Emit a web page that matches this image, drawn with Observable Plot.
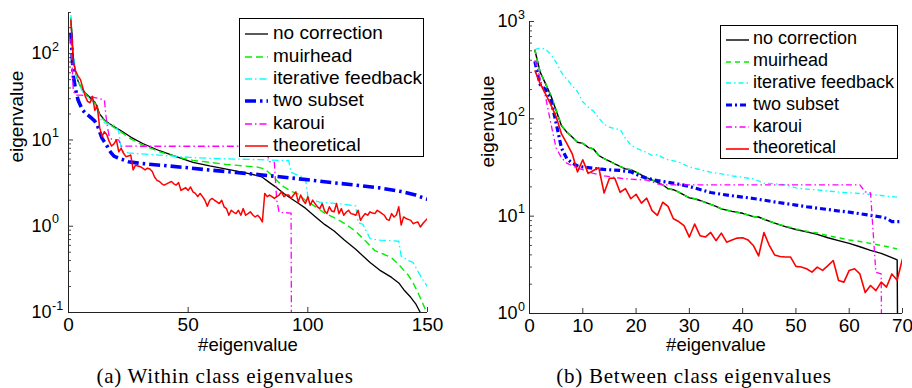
<!DOCTYPE html>
<html><head><meta charset="utf-8">
<script src="https://cdn.jsdelivr.net/npm/d3@7"></script>
<script src="https://cdn.jsdelivr.net/npm/@observablehq/plot@0.6"></script>
<style>
html,body{margin:0;padding:0;background:#fff;}
#root{position:relative;width:912px;height:388px;overflow:hidden;font-family:"Liberation Sans",Arial,sans-serif;color:#000;}
.panel{position:absolute;top:0;}
.legend{position:absolute;border:1.2px solid #000;background:#fff;box-sizing:border-box;}
.row{display:flex;align-items:center;white-space:nowrap;}
.row svg{display:block;flex:none;}
.caption{position:absolute;font-family:"Liberation Serif","Times New Roman",serif;font-size:21px;letter-spacing:0.75px;line-height:21px;white-space:nowrap;transform:translateX(-50%);}
</style></head><body><div id="root"></div>
<script>
// ---------- labels / ticks ----------
const legendLabels = ["no correction", "muirhead", "iterative feedback", "two subset", "karoui", "theoretical"];
const captionWithin = "(a) Within class eigenvalues";
const captionBetween = "(b) Between class eigenvalues";
const xLabelText = "#eigenvalue";
const yLabelText = "eigenvalue";
const xTicksWithin = [0, 50, 100, 150];
const xTicksBetween = [0, 10, 20, 30, 40, 50, 60, 70];
const yMajorWithin = [0.1, 1, 10, 100];
const yExpWithin = ["-1", "0", "1", "2"];
const yMinorWithin = [0.2,0.3,0.4,0.5,0.6,0.7,0.8,0.9,2,3,4,5,6,7,8,9,20,30,40,50,60,70,80,90,200,300];
const yMajorBetween = [1, 10, 100, 1000];
const yExpBetween = ["0", "1", "2", "3"];
const yMinorBetween = [2,3,4,5,6,7,8,9,20,30,40,50,60,70,80,90,200,300,400,500,600,700,800,900];

// ---------- (a) within class: [index, value] ----------
const wNoCorrection = [[1,255],[2,85],[3,60],[4,48],[5,42],[6,38],[7,35],[8,33],[9,31],[10,29],[11,27.5],[12,24],[13,20],[14,18.5],[15,17],[17,15.5],[19,14.3],[22,12.8],[26,10.8],[31,9.1],[38,7.5],[45,6.4],[52,5.5],[59,5.0],[66,4.6],[73,4.2],[79,3.86],[81,3.7],[84,3.2],[87,2.8],[90,2.4],[93,2.1],[96,1.85],[99,1.62],[103,1.3],[107,1.05],[111,0.88],[115,0.7],[120,0.54],[126,0.38],[130,0.31],[135,0.255],[138,0.22],[140,0.185],[143,0.15],[145,0.127],[147,0.1],[148,0.085]];
const wMuirhead = [[1,265],[2,88],[3,61],[4,48],[5,42],[6,37.5],[7,34.5],[8,32],[9,30],[10,28.5],[11,27],[12,23],[13,19.5],[14,18],[15,16.8],[17,15.2],[19,14],[22,12.3],[26,10.3],[31,8.7],[38,7.3],[45,6.4],[52,5.8],[59,5.5],[66,5.2],[73,5.0],[79,4.85],[82,4.6],[85,3.9],[88,3.2],[90,2.85],[93,2.55],[96,2.35],[99,2.0],[103,1.7],[107,1.42],[112,1.22],[116,1.05],[120,0.87],[124,0.68],[128,0.52],[132,0.47],[135,0.43],[138,0.36],[140,0.31],[142,0.27],[144,0.22],[146,0.17],[148,0.128],[149,0.11],[150,0.1]];
const wIterative = [[1,280],[2,100],[3,63],[4,48],[5,41],[6,36],[7,33],[8,31],[9,29.5],[10,28],[11,26],[12,22],[13,18.5],[14,16.5],[15,15.8],[17,15.3],[19,14.8],[20,14],[21,12.5],[22,8],[23,7.3],[25,7.1],[30,6.9],[40,6.6],[50,6.3],[60,6.1],[70,6.0],[80,5.9],[88,5.8],[92,5.75],[93,4.2],[95,4.0],[97,3.8],[99,3.6],[100,2.2],[102,2.0],[105,1.9],[110,1.85],[115,1.8],[120,1.72],[121,1.1],[123,1.05],[126,0.72],[130,0.69],[135,0.68],[138,0.67],[139,0.45],[142,0.4],[144,0.38],[146,0.3],[148,0.24],[150,0.2]];
const wTwoSubset = [[1,175],[2,55],[3,38],[4,29],[5,25],[6,22],[7,20.5],[8,19.5],[9,18.5],[10,17.5],[11,16.5],[12,15],[13,12.5],[14,10.5],[15,9.5],[16,8.6],[17,7.6],[18,7.0],[19,6.5],[20,6.3],[22,6.0],[25,5.6],[30,5.35],[40,5.05],[50,4.75],[60,4.45],[70,4.2],[80,3.95],[90,3.7],[100,3.45],[110,3.2],[120,3.0],[130,2.78],[140,2.5],[145,2.3],[150,2.05]];
const wKaroui = [[1,150],[2,37],[3,33],[5,33],[8,32.5],[11,31],[14,29.5],[15,29],[16,15.5],[17,11],[18,10.2],[21,10],[22,8.5],[30,8.45],[50,8.45],[70,8.45],[82,8.4],[84,5.6],[86,5.5],[87,2.0],[88,1.45],[93,1.42],[94,1e-9]];
const wTheoretical = [248,80,63,55,50,40,32,28,27,32,22,25,14,11,12.5,11.5,9.6,8.5,9,10,
  7.3,8,7,6.4,6.5,6.7,4.5,5.1,5.0,4.9,4.7,4.5,4.7,4.6,4.3,3.7,3.4,3.3,3.1,3.0,
  3.1,3.2,3.3,3.1,3.0,3.2,2.6,2.7,2.8,2.6,2.85,2.5,2.4,2.2,2.4,2.2,2.0,1.7,2.0,2.1,
  2.0,1.92,1.83,2.0,1.68,1.6,1.34,1.53,1.45,1.4,1.53,1.34,1.6,1.34,1.4,1.47,1.35,1.28,1.34,1.25,
  1.12,2.4,2.2,2.3,2.2,2.1,2.2,2.3,2.5,2.2,2.3,2.3,2.1,2.3,2.5,1.9,2.3,2.0,1.83,2.2,
  1.75,2.0,1.83,1.68,1.6,1.83,1.5,1.4,1.68,1.5,1.47,1.83,1.4,1.6,1.34,1.45,1.53,1.4,1.38,1.34,
  1.53,1.17,1.3,1.4,1.34,1.47,1.42,1.4,1.53,1.47,1.4,1.34,1.2,1.17,1.4,1.28,1.35,1.68,1.03,1.28,
  1.23,1.2,1.17,1.07,1.1,1.12,0.98,1.07,1.15,1.23];

// ---------- (b) between class: [index, value] ----------
const bNoCorrection = [[1,510],[2,302],[3,230],[4,174],[5,122],[6,85],[7,73],[8,65],[9,57.5],[10,56],[11,51],[12,49],[13,42],[14,39],[15,36.7],[16,34.5],[17,32.4],[18,30.6],[19,30],[20,28.3],[22,24.8],[24,22.3],[25,21],[26,19.1],[27,18.7],[28,17.7],[30,15.4],[31,15.1],[32,14.5],[34,13.2],[35,12.6],[36,11.9],[38,11.2],[40,10.7],[42,9.9],[43,9.8],[44,9.3],[46,8.5],[48,7.8],[50,7.3],[52,6.9],[54,6.5],[56,6.0],[58,5.6],[60,5.25],[62,4.85],[64,4.45],[66,4.15],[68,3.75],[69,3.55],[70,1e-9]];
const bMuirhead = [[1,520],[2,300],[3,232],[4,176],[5,124],[6,86],[7,73],[8,65],[9,58],[10,56],[11,51],[12,49],[13,42],[14,39],[15,36.5],[16,34.5],[17,32.5],[18,30.8],[19,30],[20,28.5],[22,25],[24,22.3],[25,21],[26,19],[27,18.7],[28,17.7],[30,15.4],[31,15.1],[32,14.5],[34,13.2],[35,12.6],[36,11.9],[38,11.2],[40,10.7],[42,9.9],[43,9.8],[44,9.3],[46,8.5],[48,7.9],[50,7.4],[52,7.0],[54,6.7],[56,6.3],[58,6.0],[60,5.7],[62,5.5],[64,5.25],[66,5.0],[68,4.75],[69,4.6]];
const bIterative = [[1,515],[2,535],[3,520],[4,460],[5,380],[6,300],[7,255],[8,220],[9,190],[10,150],[11,132],[12,120],[13,102],[14,88],[15,82],[16,79],[17,78],[18,63],[19,54],[20,50],[21,47.5],[22,45],[23,42],[24,43],[25,40],[26,38],[28,36],[30,32],[32,30],[34,28.3],[36,27.2],[38,26],[40,25],[42,24.2],[44,21.8],[46,21.5],[48,21],[50,19.5],[52,19],[54,18.6],[56,18.1],[58,17.7],[60,17.4],[62,17.1],[64,16.7],[66,16.3],[68,15.9],[69,15.7]];
const bTwoSubset = [[1,390],[2,225],[3,200],[4,160],[5,90],[6,50],[7,39],[8,35],[9,33],[10,32],[12,31],[14,30.2],[17,29.5],[19,28.5],[20,27],[21,25.5],[22,24.5],[24,23.2],[26,22.3],[28,21.3],[30,20.2],[32,18.8],[34,17.5],[36,16.8],[38,16.2],[40,15.7],[42,15.2],[44,14.6],[46,14.0],[48,13.5],[50,13.0],[52,12.5],[54,12.1],[56,11.7],[58,11.3],[60,11.0],[62,10.6],[64,10.2],[66,9.8],[67,9.5],[68,8.8],[69,8.8],[70,8.8]];
const bKaroui = [[1,400],[2,260],[3,170],[4,90],[5,50],[6,40],[7,35],[8,33],[9,31],[10,30],[11,28.5],[12,27.5],[14,26],[16,25],[18,24.2],[20,23.8],[22,23.5],[24,21.5],[25,21],[40,21],[62,21],[63,17.8],[64,17.3],[65,2.65],[66,2.55],[67,1e-9]];
const bTheoretical = [315,230,180,140,105,70,56,44,28.5,38,27.5,29.5,31.5,17.3,24.5,24.5,17.6,19.2,15.1,16.8,
  13.6,15.3,11.4,10.2,13.9,12.6,9.4,8.8,8.0,6.1,8.3,6.3,6.1,6.8,5.6,6.7,5.4,5.7,5.95,6.0,
  5.7,5.0,3.9,6.8,5.0,4.0,3.85,3.8,3.8,3.05,3.0,2.88,2.66,3.0,2.77,3.1,3.5,2.18,2.1,2.77,
  2.88,2.55,1.64,1.94,1.72,2.1,1.87,2.55,2.2,3.65];

// ---------- styles ----------
const colors = ["#000000", "#00ee00", "#00ffff", "#0000ff", "#ff00ff", "#ff0000"];
const stylesWithin = [
  {w: 1.3, dash: null}, {w: 1.4, dash: "7,4"}, {w: 1.3, dash: "7,3,1.5,3"},
  {w: 3.6, dash: "11,4,2.5,4"}, {w: 1.3, dash: "7,3,1.5,3"}, {w: 1.5, dash: null}
];
const stylesBetween = [
  {w: 1.4, dash: null}, {w: 1.5, dash: "5,4"}, {w: 1.3, dash: "5,3,1.5,3"},
  {w: 3.2, dash: "6,3,2,3"}, {w: 1.3, dash: "6,3,1.5,3"}, {w: 1.6, dash: null}
];

const axisColor = "#222";

function panel(cfg) {
  const innerW = cfg.width - cfg.marginLeft - cfg.marginRight;
  const innerH = cfg.height - cfg.marginTop - cfg.marginBottom;
  const seriesMarks = cfg.series.map((data, k) => {
    const st = cfg.styles[k];
    const isPairs = Array.isArray(data[0]);
    return Plot.line(data, {
      x: isPairs ? d => d[0] : (d, i) => i + 1,
      y: isPairs ? d => d[1] : d => d,
      stroke: colors[k], strokeWidth: st.w,
      strokeDasharray: st.dash || undefined,
      strokeLinecap: "butt", strokeLinejoin: "round",
      clip: true
    });
  });
  return Plot.plot({
    width: cfg.width, height: cfg.height,
    marginLeft: cfg.marginLeft, marginRight: cfg.marginRight,
    marginTop: cfg.marginTop, marginBottom: cfg.marginBottom,
    x: {domain: cfg.xDomain},
    y: {type: "log", domain: cfg.yDomain, axis: null},
    style: {background: "white", fontFamily: "'Liberation Sans', Arial, sans-serif", fontSize: "19px", color: "#000", overflow: "visible"},
    marks: [
      ...seriesMarks,
      Plot.tickY(cfg.yMinor, {y: d => d, insetRight: innerW - 3, stroke: axisColor, strokeWidth: 0.8}),
      Plot.tickY(cfg.yMajor, {y: d => d, insetRight: innerW - 5, stroke: axisColor, strokeWidth: 0.9}),
      Plot.tickX(cfg.xTicks, {x: d => d, insetTop: innerH - 5, stroke: axisColor, strokeWidth: 0.9}),
      Plot.ruleX([cfg.xDomain[0]], {stroke: axisColor, strokeWidth: 1}),
      Plot.ruleY([cfg.yDomain[0]], {stroke: axisColor, strokeWidth: 1}),
      Plot.axisX(cfg.xTicks, {tickSize: 0, tickPadding: 5, label: null, fontSize: 19, fill: "#000"}),
      Plot.text(cfg.yMajor, {y: d => d, text: () => "10", frameAnchor: "left", textAnchor: "end", dx: cfg.tenDx, fontSize: 18, lineAnchor: "middle", fill: "#000"}),
      Plot.text(cfg.yMajor, {y: d => d, text: (d, i) => cfg.yExp[i], frameAnchor: "left", textAnchor: "start", dx: cfg.tenDx + 0.5, dy: -7, fontSize: 12.5, lineAnchor: "middle", fill: "#000"}),
      Plot.text([xLabelText], {text: d => d, frameAnchor: "bottom", dy: cfg.xLabelDy, fontSize: 18.5, lineAnchor: "middle", fill: "#000"}),
      Plot.text([yLabelText], {text: d => d, frameAnchor: "left", rotate: -90, dx: cfg.yLabelDx, fontSize: 19, lineAnchor: "middle", fill: "#000"})
    ]
  });
}

function legend(cfg) {
  const box = document.createElement("div");
  box.className = "legend";
  Object.assign(box.style, {left: cfg.left + "px", top: cfg.top + "px", width: cfg.width + "px", height: cfg.height + "px", paddingTop: cfg.padTop + "px", fontSize: cfg.fontSize + "px"});
  legendLabels.forEach((lab, k) => {
    const st = cfg.styles[k];
    const row = document.createElement("div");
    row.className = "row";
    row.style.height = cfg.rowH + "px";
    const ns = "http://www.w3.org/2000/svg";
    const svg = document.createElementNS(ns, "svg");
    svg.setAttribute("width", cfg.sampleW);
    svg.setAttribute("height", 10);
    svg.style.marginLeft = cfg.sampleLeft + "px";
    svg.style.marginRight = cfg.gap + "px";
    svg.style.marginTop = "2px";
    const ln = document.createElementNS(ns, "line");
    ln.setAttribute("x1", 0); ln.setAttribute("x2", cfg.sampleW);
    ln.setAttribute("y1", 5); ln.setAttribute("y2", 5);
    ln.setAttribute("stroke", colors[k]);
    ln.setAttribute("stroke-width", st.w);
    if (st.dash) ln.setAttribute("stroke-dasharray", st.dash);
    svg.appendChild(ln);
    const span = document.createElement("span");
    span.textContent = lab;
    row.appendChild(svg); row.appendChild(span);
    box.appendChild(row);
  });
  return box;
}

const root = document.getElementById("root");

const left = document.createElement("div");
left.className = "panel"; left.style.left = "0px"; left.style.width = "456px";
left.appendChild(panel({
  width: 456, height: 352, marginLeft: 68, marginRight: 29, marginTop: 12, marginBottom: 40,
  xDomain: [0, 150], yDomain: [0.1, 300], xTicks: xTicksWithin, yMajor: yMajorWithin, yExp: yExpWithin, yMinor: yMinorWithin,
  series: [wNoCorrection, wMuirhead, wIterative, wTwoSubset, wKaroui, wTheoretical], styles: stylesWithin,
  tenDx: -17, xLabelDy: 33, yLabelDx: -52
}));
root.appendChild(left);

const right = document.createElement("div");
right.className = "panel"; right.style.left = "456px"; right.style.width = "456px";
right.appendChild(panel({
  width: 456, height: 352, marginLeft: 73, marginRight: 10, marginTop: 21, marginBottom: 39,
  xDomain: [0, 70], yDomain: [1, 1000], xTicks: xTicksBetween, yMajor: yMajorBetween, yExp: yExpBetween, yMinor: yMinorBetween,
  series: [bNoCorrection, bMuirhead, bIterative, bTwoSubset, bKaroui, bTheoretical], styles: stylesBetween,
  tenDx: -12, xLabelDy: 32, yLabelDx: -42
}));
root.appendChild(right);

root.appendChild(legend({left: 239, top: 18, width: 185, height: 139, padTop: 3, rowH: 22.4, fontSize: 19, sampleLeft: 5, sampleW: 23, gap: 5, styles: stylesWithin}));
root.appendChild(legend({left: 720, top: 25, width: 178, height: 134, padTop: 2, rowH: 21.8, fontSize: 18, sampleLeft: 5, sampleW: 23, gap: 4, styles: stylesBetween}));

const capA = document.createElement("div");
capA.className = "caption"; capA.textContent = captionWithin;
capA.style.left = "225px"; capA.style.top = "366px";
root.appendChild(capA);
const capB = document.createElement("div");
capB.className = "caption"; capB.textContent = captionBetween;
capB.style.left = "694px"; capB.style.top = "366px";
root.appendChild(capB);
</script>
</body></html>
